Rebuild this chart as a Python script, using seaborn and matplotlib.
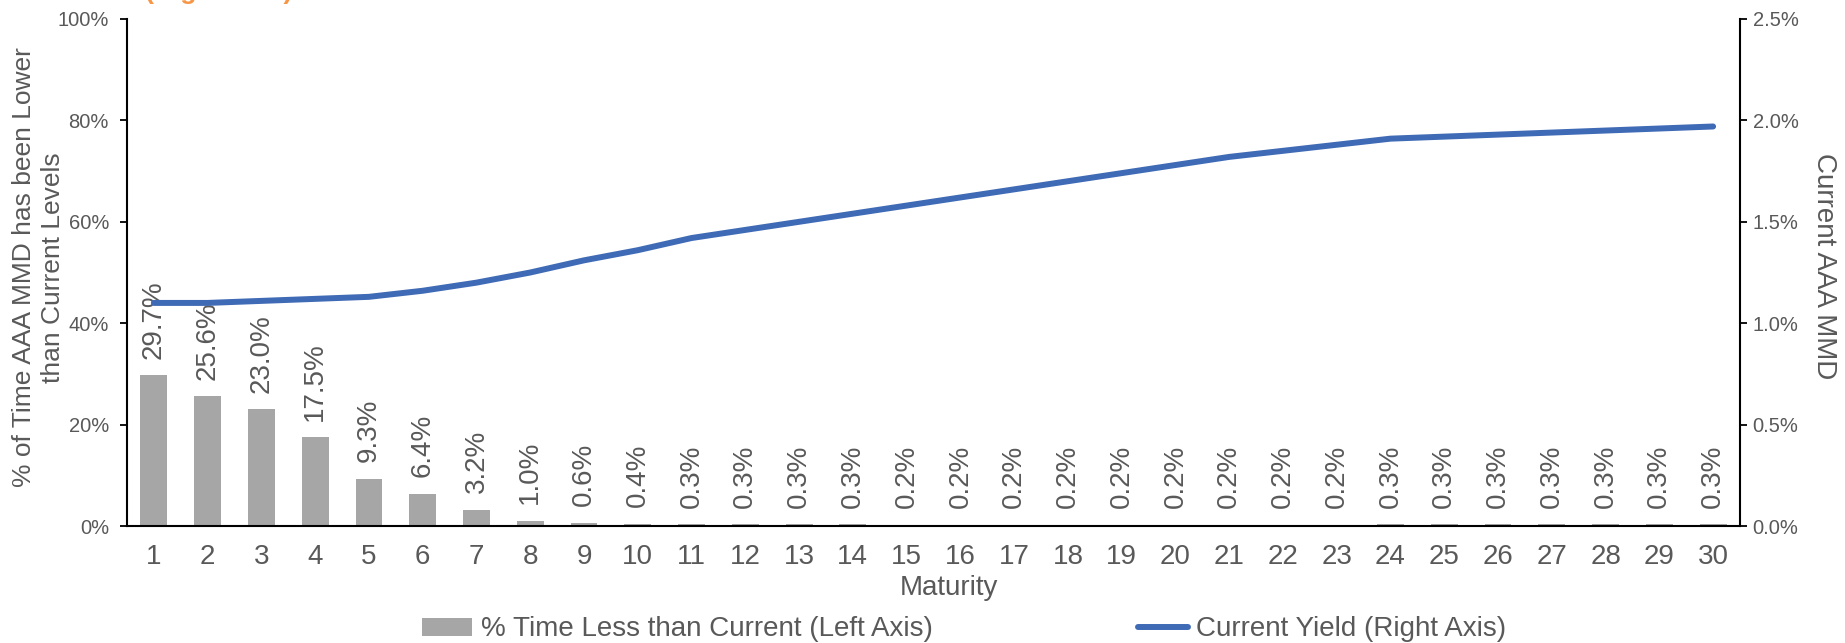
import numpy as np
import pandas as pd
import matplotlib
matplotlib.use("Agg")
import matplotlib.pyplot as plt
import seaborn as sns
from matplotlib.patches import Patch
from matplotlib.lines import Line2D
from matplotlib.ticker import PercentFormatter

maturity = [str(i) for i in range(1, 31)]
pct_time_lower = [29.7, 25.6, 23.0, 17.5, 9.3, 6.4, 3.2, 1.0, 0.6, 0.4,
                  0.3, 0.3, 0.3, 0.3, 0.2, 0.2, 0.2, 0.2, 0.2, 0.2,
                  0.2, 0.2, 0.2, 0.3, 0.3, 0.3, 0.3, 0.3, 0.3, 0.3]
current_yield = [1.10, 1.10, 1.11, 1.12, 1.13, 1.16, 1.20, 1.25, 1.31, 1.36,
                 1.42, 1.46, 1.50, 1.54, 1.58, 1.62, 1.66, 1.70, 1.74, 1.78,
                 1.82, 1.85, 1.88, 1.91, 1.92, 1.93, 1.94, 1.95, 1.96, 1.97]
left_ticks = [0, 20, 40, 60, 80, 100]
right_ticks = [0.0, 0.5, 1.0, 1.5, 2.0, 2.5]

bar_label_name = "% Time Less than Current (Left Axis)"
line_label_name = "Current Yield (Right Axis)"

df = pd.DataFrame({"maturity": maturity, "pct": pct_time_lower, "yield": current_yield})
df["pos"] = np.arange(len(df))

sns.set_theme(style="white")
plt.rcParams["font.family"] = ["Liberation Sans", "DejaVu Sans"]

GRAY_TXT = "#595959"
BAR_C = "#A6A6A6"
LINE_C = "#3F6AB5"

W, H = 1845, 643
fig = plt.figure(figsize=(W / 100, H / 100), dpi=100)
ax = fig.add_axes([127 / W, (H - 526) / H, (1740 - 127) / W, (526 - 19) / H])

sns.barplot(data=df, x="maturity", y="pct", color=BAR_C, width=0.5,
            saturation=1, ax=ax, edgecolor="none")
ax.set_ylim(0, 100)
ax.set_xlim(-0.5, len(df) - 0.5)
ax.set_yticks(left_ticks)
ax.yaxis.set_major_formatter(PercentFormatter(decimals=0))

for cont in ax.containers:
    ax.bar_label(cont, labels=[f"{v:.1f}%" for v in df["pct"]], rotation=90,
                 padding=12, fontsize=20, color=GRAY_TXT)

ax2 = ax.twinx()
sns.lineplot(data=df, x="pos", y="yield", color=LINE_C, linewidth=4.3,
             ax=ax2, solid_capstyle="round")
ax2.set_ylim(0, 2.5)
ax2.set_yticks(right_ticks)
ax2.yaxis.set_major_formatter(PercentFormatter(decimals=1))
ax2.set_xlim(-0.5, len(df) - 0.5)

for a in (ax, ax2):
    for s in a.spines.values():
        s.set_visible(False)
ax.spines["left"].set_visible(True)
ax.spines["bottom"].set_visible(True)
ax2.spines["right"].set_visible(True)
for s in (ax.spines["left"], ax.spines["bottom"], ax2.spines["right"]):
    s.set_color("black")
    s.set_linewidth(1.5)

ax.tick_params(axis="y", which="both", left=True, length=5, width=1.3,
               color="black", direction="out", pad=8, labelsize=14.5,
               labelcolor=GRAY_TXT)
ax.tick_params(axis="x", bottom=False, length=0, pad=13, labelsize=20,
               labelcolor=GRAY_TXT)
ax2.tick_params(axis="y", right=True, length=5, width=1.3, color="black",
                direction="out", pad=4, labelsize=14.5, labelcolor=GRAY_TXT)

ax.set_xlabel("Maturity", fontsize=20, color=GRAY_TXT)
ax.xaxis.label.set_va("center")
ax.xaxis.set_label_coords((949 - 127) / 1613, (526 - 588) / 507)

ax.set_ylabel("% of Time AAA MMD has been Lower\nthan Current Levels",
              fontsize=19, color=GRAY_TXT, linespacing=1.3)
ax.yaxis.label.set_va("center")
ax.yaxis.set_label_coords((38.5 - 127) / 1613, 0.51)

ax2.set_ylabel("Current AAA MMD", fontsize=20, color=GRAY_TXT, rotation=270)
ax2.yaxis.label.set_va("center")
ax2.yaxis.set_label_coords((1824 - 127) / 1613, 0.512)

handles = [Patch(facecolor=BAR_C, edgecolor="none"),
           Line2D([0], [0], color=LINE_C, linewidth=4.3)]
fig.legend(handles, [bar_label_name, line_label_name], loc="center",
           bbox_to_anchor=(964.5 / W, 0.021), ncol=2, frameon=False,
           fontsize=20, labelcolor=GRAY_TXT, columnspacing=7.4,
           handlelength=1.8, handleheight=0.6, handletextpad=0.3,
           borderpad=0, borderaxespad=0)

fig.text(145 / W, 1 + 1.5 / H, "(Right Axis)", color="#F79646", fontsize=19,
         fontweight="bold", ha="left", va="baseline")

fig.savefig("out.png", dpi=100, facecolor="white")
